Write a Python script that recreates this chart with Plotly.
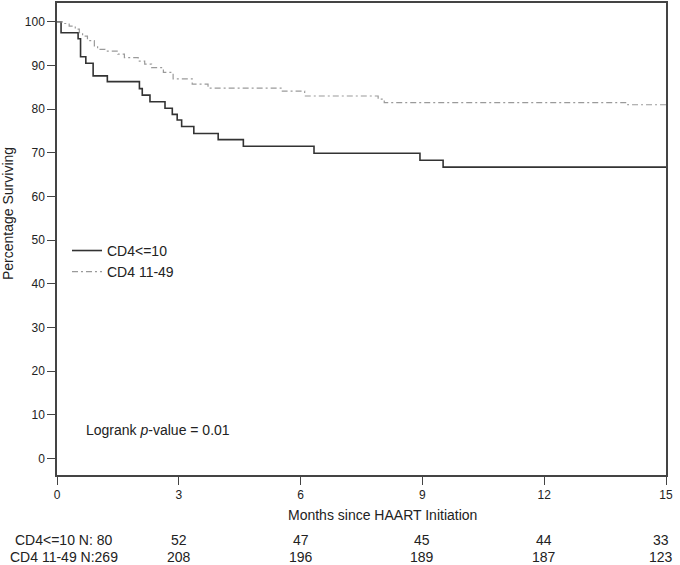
import plotly.graph_objects as go

# Kaplan-Meier step data
months_cd4_le10 = [0, 0.10, 0.52, 0.58, 0.71, 0.89, 1.24, 2.03, 2.10, 2.29, 2.66, 2.84,
                   2.96, 3.07, 3.37, 3.97, 4.59, 6.33, 8.94, 9.51, 15]
surv_cd4_le10 = [100, 97.5, 96.1, 92.0, 90.5, 87.6, 86.3, 84.7, 83.2, 81.7, 80.2, 78.8,
                 77.5, 76.0, 74.4, 73.0, 71.5, 69.9, 68.3, 66.7, 66.7]

months_cd4_11_49 = [0, 0.15, 0.30, 0.45, 0.55, 0.63, 0.75, 0.92, 1.00, 1.18, 1.50, 1.66,
                    2.00, 2.16, 2.33, 2.62, 2.86, 3.33, 3.72, 5.55, 6.10, 7.91, 8.06, 14.06, 15]
surv_cd4_11_49 = [100, 99.6, 99.0, 98.3, 97.5, 96.7, 95.7, 94.5, 93.7, 93.3, 92.6, 91.8,
                  91.0, 90.3, 89.5, 88.4, 86.9, 85.7, 84.8, 84.1, 83.0, 82.3, 81.5, 81.0, 81.0]

x_ticks = [0, 3, 6, 9, 12, 15]
y_ticks = [0, 10, 20, 30, 40, 50, 60, 70, 80, 90, 100]

risk_le10 = [52, 47, 45, 44, 33]
risk_11_49 = [208, 196, 189, 187, 123]
risk_months = [3, 6, 9, 12, 15]

FONT = "Liberation Sans, Arial, Helvetica, sans-serif"

fig = go.Figure()
fig.add_trace(go.Scatter(
    x=months_cd4_le10, y=surv_cd4_le10, mode="lines", line_shape="hv",
    name="CD4<=10", line=dict(color="#333333", width=1.6)))
fig.add_trace(go.Scatter(
    x=months_cd4_11_49, y=surv_cd4_11_49, mode="lines", line_shape="hv",
    name="CD4 11-49", line=dict(color="#9a9a9a", width=1.2, dash="6px,3px,2px,3px")))

axis_common = dict(showgrid=False, zeroline=False, showline=True, linecolor="#444444",
                   linewidth=1.5, mirror=True, ticks="outside", ticklen=8,
                   tickcolor="#444444", tickwidth=1,
                   tickfont=dict(family=FONT, size=12, color="#222222"))

fig.update_xaxes(range=[0, 15], tickvals=x_ticks, **axis_common)
fig.update_yaxes(range=[-3.8, 104.3], tickvals=y_ticks, **axis_common)

annotations = [
    dict(text="Percentage Surviving", textangle=-90, xref="paper", yref="paper",
         x=-0.0805, y=0.555, showarrow=False, xanchor="center", yanchor="middle",
         font=dict(family=FONT, size=14, color="#222222")),
    dict(text="Months since HAART Initiation", xref="paper", yref="paper",
         x=0.535, y=-0.0844, showarrow=False, xanchor="center", yanchor="middle",
         font=dict(family=FONT, size=14, color="#222222")),
    dict(text="Logrank <i>p</i>-value = 0.01", xref="paper", yref="paper",
         x=0.0443, y=0.095, showarrow=False, xanchor="left", yanchor="middle",
         font=dict(family=FONT, size=14, color="#222222")),
    dict(text="CD4<=10 N: 80", xref="paper", yref="paper", x=0.0107, y=-0.137,
         showarrow=False, xanchor="center", yanchor="middle",
         font=dict(family=FONT, size=14, color="#222222")),
    dict(text="CD4 11-49 N:269", xref="paper", yref="paper", x=0.0107, y=-0.173,
         showarrow=False, xanchor="center", yanchor="middle",
         font=dict(family=FONT, size=14, color="#222222")),
]
for m, a, b in zip(risk_months, risk_le10, risk_11_49):
    shift = -5 if m == 15 else 0
    annotations.append(dict(text=str(a), xref="x", yref="paper", x=m, y=-0.137,
                            xshift=shift, showarrow=False, xanchor="center", yanchor="middle",
                            font=dict(family=FONT, size=14, color="#222222")))
    annotations.append(dict(text=str(b), xref="x", yref="paper", x=m, y=-0.173,
                            xshift=shift, showarrow=False, xanchor="center", yanchor="middle",
                            font=dict(family=FONT, size=14, color="#222222")))

fig.update_layout(
    width=680, height=565,
    margin=dict(l=57, r=14, t=1, b=90),
    paper_bgcolor="white", plot_bgcolor="white",
    showlegend=True,
    legend=dict(x=0.0164, y=0.4525, xanchor="left", yanchor="middle",
                bgcolor="rgba(0,0,0,0)", font=dict(family=FONT, size=14, color="#222222"),
                tracegroupgap=0),
    annotations=annotations,
)

fig.write_html("out.html", config={"displayModeBar": False},
               post_script="document.body.style.margin='0';document.body.style.overflow='hidden';")
